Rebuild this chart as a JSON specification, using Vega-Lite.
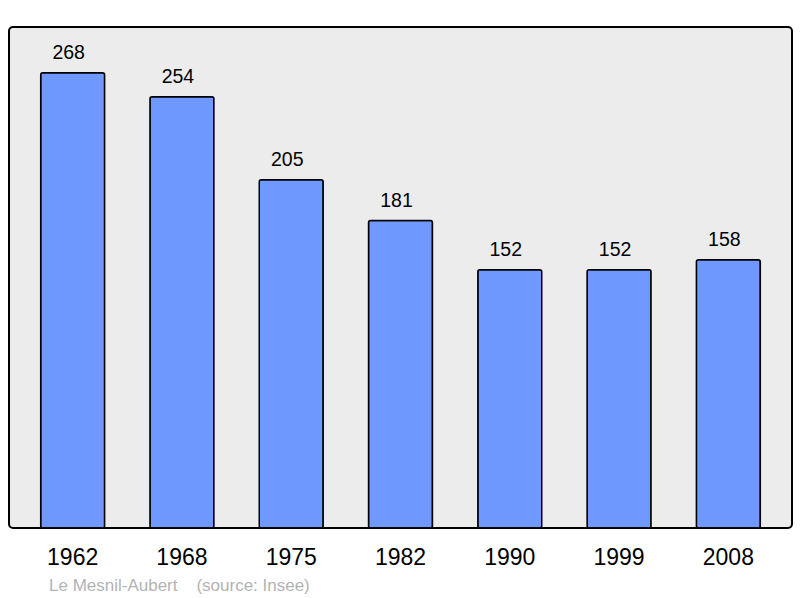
{
  "$schema": "https://vega.github.io/schema/vega-lite/v6.json",
  "width": 783,
  "height": 501,
  "autosize": "none",
  "padding": {"left": 9, "top": 27, "right": 8, "bottom": 70},
  "background": "#ffffff",
  "data": {
    "values": [
      {"year": "1962", "population": 268},
      {"year": "1968", "population": 254},
      {"year": "1975", "population": 205},
      {"year": "1982", "population": 181},
      {"year": "1990", "population": 152},
      {"year": "1999", "population": 152},
      {"year": "2008", "population": 158}
    ]
  },
  "title": {
    "text": "Le Mesnil-Aubert\u00a0\u00a0\u00a0\u00a0(source: Insee)",
    "orient": "bottom",
    "anchor": "start",
    "dx": 40,
    "offset": 9,
    "font": "Liberation Sans",
    "fontSize": 17,
    "fontWeight": "normal",
    "color": "#b3b3b3"
  },
  "encoding": {
    "x": {
      "field": "year",
      "type": "ordinal",
      "scale": {"paddingInner": 0.415, "paddingOuter": 0.29},
      "axis": {
        "title": null,
        "domain": false,
        "ticks": false,
        "labelAngle": 0,
        "labelFont": "Liberation Sans",
        "labelFontSize": 23,
        "labelColor": "#000000",
        "labelPadding": 18
      }
    },
    "y": {
      "field": "population",
      "type": "quantitative",
      "scale": {"domain": [0, 295], "nice": false},
      "axis": null
    }
  },
  "layer": [
    {
      "mark": {
        "type": "bar",
        "fill": "#7099ff",
        "stroke": "#000000",
        "strokeWidth": 1.5,
        "cornerRadius": 2
      }
    },
    {
      "mark": {
        "type": "text",
        "baseline": "alphabetic",
        "dy": -14,
        "dx": -4,
        "font": "Liberation Sans",
        "fontSize": 19.5,
        "color": "#000000"
      },
      "encoding": {"text": {"field": "population", "type": "quantitative"}}
    }
  ],
  "view": {
    "fill": "#ececec",
    "stroke": "#000000",
    "strokeWidth": 2,
    "cornerRadius": 4
  }
}
